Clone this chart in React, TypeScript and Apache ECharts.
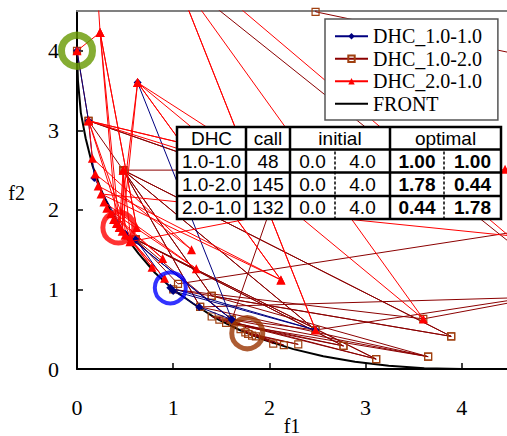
import React, { useEffect, useRef } from 'react';
import * as echarts from 'echarts';

// ---- data ----
const frontPoints: number[][] = [
  [0, 4], [0.01, 3.62], [0.04, 3.22], [0.09, 2.9], [0.16, 2.56], [0.25, 2.25],
  [0.36, 1.96], [0.49, 1.69], [0.64, 1.45], [0.81, 1.21], [1.0, 1.0], [1.21, 0.82],
  [1.44, 0.64], [1.69, 0.49], [1.96, 0.36], [2.25, 0.25], [2.56, 0.16], [2.89, 0.09],
  [3.24, 0.04], [3.61, 0.01], [4.0, 0.0],
];

const dhc11Points: number[][] = [
  [0.63, 3.6], [1.61, 0.62], [1.27, 0.78], [1.0, 0.98], [2.48, 0.49], [0.97, 1.02],
  [0.61, 1.63], [0.5, 1.7], [1.61, 0.62], [0.5, 1.7], [0.18, 2.4], [0.12, 3.12], [0, 4],
];

const dhc12Points: number[][] = [
  [0, 4], [0.12, 3.12], [2.3, 2.2], [0.12, 3.12], [0.48, 2.5], [2.48, 0.49],
  [0.48, 2.5], [3.89, 0.41], [0.48, 2.5], [1.4, 0.92], [0.48, 2.5], [1.28, 0.78],
  [0.48, 2.5], [2.15, 2.5], [1.61, 0.62], [0.61, 1.63], [3.11, 0.125], [0.61, 1.63],
  [2.77, 0.29], [0.61, 1.63], [1.05, 1.07], [4.7, 1.75], [4.8, 1.3], [0.97, 5.0],
  [2.6, 5.0], [2.48, 4.49], [4.8, 3.9], [4.8, 0.9], [3.6, 0.63], [1.0, 1.0],
  [3.89, 0.41], [1.4, 0.92], [3.65, 0.155], [1.28, 0.78], [4.7, 0.9], [2.48, 0.49],
  [1.4, 0.66], [3.11, 0.125], [1.48, 0.62], [2.77, 0.29], [1.55, 0.58], [3.65, 0.155],
  [1.61, 0.62], [2.04, 0.32], [1.7, 0.5], [2.15, 0.3], [1.75, 0.46], [2.3, 0.31],
  [1.78, 0.44], [1.82, 0.42], [1.86, 0.41], [1.78, 0.44],
];

const dhc21Points: number[][] = [
  [0, 4], [0.24, 4.23], [0.62, 1.78], [0.24, 4.23], [0.2, 5.0], [1.0, 5.0],
  [2.48, 0.49], [1.0, 5.0], [3.6, 0.63], [0.63, 3.6], [2.12, 1.12], [0.63, 3.6],
  [2.3, 2.3], [0.12, 3.12], [2.1, 2.55], [0.12, 3.12], [0.16, 2.65], [1.19, 1.5],
  [0.19, 2.45], [0.22, 2.3], [2.12, 1.12], [0.25, 2.2], [4.7, 1.65], [4.6, 1.56],
  [1.24, 5.0], [4.8, 5.0], [4.8, 2.6], [4.45, 2.51], [0.55, 1.6], [0.28, 2.1],
  [1.24, 1.26], [0.31, 2.02], [0.89, 1.39], [0.35, 1.95], [0.78, 1.28], [0.38, 1.88],
  [0.91, 1.14], [0.41, 1.83], [0.24, 4.23], [0.44, 1.78], [0.63, 3.6], [0.47, 1.73],
  [0.48, 2.5], [0.5, 1.68], [0.12, 3.12], [0.56, 1.62], [0.48, 2.5], [0.44, 1.78],
];

const ringPoints: number[][] = [[0, 4], [0.43, 1.78], [0.97, 1.02], [1.77, 0.45]];

const seriesNames = ['DHC_1.0-1.0', 'DHC_1.0-2.0', 'DHC_2.0-1.0', 'FRONT'];

const tableHeader = ['DHC', 'call', 'initial', 'optimal'];
const tableRuns = ['1.0-1.0', '1.0-2.0', '2.0-1.0'];
const tableCalls = [48, 145, 132];
const tableInitial = [[0.0, 4.0], [0.0, 4.0], [0.0, 4.0]];
const tableOptimal = [[1.0, 1.0], [1.78, 0.44], [0.44, 1.78]];

// ---- styles ----
const SERIF = '"Liberation Serif", "Times New Roman", serif';
const SANS = '"Liberation Sans", Arial, sans-serif';
const ringColors = ['#669900', '#ff0000', '#0000ff', '#993300'];
const ringWidths = [7, 5, 4, 5];

// table layout (pixels)
const colX = [177, 246, 290, 335, 390, 444, 501];
const rowY = [127, 149.5, 172.5, 196, 219];

function buildTable(): any[] {
  const els: any[] = [];
  const z = 100;
  els.push({
    type: 'rect', z,
    shape: { x: colX[0], y: rowY[0], width: colX[6] - colX[0], height: rowY[4] - rowY[0] },
    style: { fill: '#fff', stroke: '#000', lineWidth: 2.5 },
  });
  for (let i = 1; i < 4; i++) {
    els.push({ type: 'line', z: z + 1, shape: { x1: colX[0], y1: rowY[i], x2: colX[6], y2: rowY[i] }, style: { stroke: '#000', lineWidth: 2.5 } });
  }
  [1, 2, 4].forEach((c) => {
    els.push({ type: 'line', z: z + 1, shape: { x1: colX[c], y1: rowY[0], x2: colX[c], y2: rowY[4] }, style: { stroke: '#000', lineWidth: 2.5 } });
  });
  [3, 5].forEach((c) => {
    els.push({ type: 'line', z: z + 1, shape: { x1: colX[c], y1: rowY[1] + 2, x2: colX[c], y2: rowY[4] - 1 }, style: { stroke: '#000', lineWidth: 1.5, lineDash: [3, 2] } });
  });
  const txt = (t: string, x: number, y: number, bold = false) => ({
    type: 'text', z: z + 2, x, y,
    style: { text: t, fill: '#000', fontSize: 19, fontFamily: SANS, fontWeight: bold ? 'bold' : 'normal', align: 'center', verticalAlign: 'middle' },
  });
  const headY = (rowY[0] + rowY[1]) / 2;
  els.push(txt(tableHeader[0], (colX[0] + colX[1]) / 2, headY));
  els.push(txt(tableHeader[1], (colX[1] + colX[2]) / 2, headY));
  els.push(txt(tableHeader[2], (colX[2] + colX[4]) / 2, headY));
  els.push(txt(tableHeader[3], (colX[4] + colX[6]) / 2, headY));
  for (let r = 0; r < 3; r++) {
    const cy = (rowY[r + 1] + rowY[r + 2]) / 2;
    const cells = [
      tableRuns[r], String(tableCalls[r]),
      tableInitial[r][0].toFixed(1), tableInitial[r][1].toFixed(1),
      tableOptimal[r][0].toFixed(2), tableOptimal[r][1].toFixed(2),
    ];
    cells.forEach((t, c) => {
      els.push(txt(t, (colX[c] + colX[c + 1]) / 2, cy, c >= 4));
    });
  }
  return els;
}

export default function App() {
  const ref = useRef<HTMLDivElement>(null);
  useEffect(() => {
    if (!ref.current) return;
    const chart = echarts.init(ref.current, undefined, { renderer: 'svg' });
    const intLabel = (v: number) => (Number.isInteger(v) ? String(v) : '');
    chart.setOption({
      animation: false,
      backgroundColor: '#fff',
      grid: { left: 77, right: 0, top: 11, bottom: 67, containLabel: false, outerBoundsMode: 'none' },
      xAxis: [
        {
          type: 'value', min: 0, max: 4.47, interval: 1,
          name: 'f1', nameLocation: 'middle', nameGap: 47, nameMoveOverlap: false,
          nameTextStyle: { fontFamily: SERIF, fontSize: 20, color: '#000' },
          axisLine: { show: true, lineStyle: { color: '#000', width: 2 } },
          axisTick: { show: true, inside: true, length: 6, lineStyle: { color: '#000', width: 1.5 } },
          axisLabel: { fontFamily: SERIF, fontSize: 22, color: '#000', margin: 27, formatter: intLabel, showMaxLabel: false },
          splitLine: { show: false },
        },
        {
          type: 'value', position: 'top', min: 0, max: 4.47,
          axisLine: { show: true, onZero: false, lineStyle: { color: '#808080', width: 2 } },
          axisTick: { show: false }, axisLabel: { show: false }, splitLine: { show: false },
        },
      ],
      yAxis: {
        type: 'value', min: 0, max: 4.5, interval: 1,
        name: 'f2', nameLocation: 'middle', nameRotate: 0, nameGap: 52, nameMoveOverlap: false,
        nameTextStyle: { fontFamily: SERIF, fontSize: 20, color: '#000', verticalAlign: 'top', lineHeight: 6 },
        axisLine: { show: true, lineStyle: { color: '#000', width: 2 } },
        axisTick: { show: true, inside: true, length: 6, lineStyle: { color: '#000', width: 1.5 } },
        axisLabel: { fontFamily: SERIF, fontSize: 22, color: '#000', margin: 18, formatter: intLabel, showMaxLabel: false },
        splitLine: { show: false },
      },
      legend: {
        orient: 'vertical', left: 325, top: 19,
        padding: [7, 16, 6, 9], itemGap: 2, itemWidth: 33, itemHeight: 8,
        backgroundColor: '#fff', borderColor: '#555', borderWidth: 1.5, z: 50,
        textStyle: { fontFamily: SERIF, fontSize: 20, color: '#000', lineHeight: 20.5 },
        data: [
          seriesNames[0], seriesNames[1], seriesNames[2],
          { name: seriesNames[3], itemStyle: { opacity: 0 } },
        ],
      },
      series: [
        {
          name: seriesNames[3], type: 'line', data: frontPoints, symbol: 'none',
          lineStyle: { color: '#000', width: 2 }, itemStyle: { color: '#000' }, z: 1,
        },
        {
          name: seriesNames[1], type: 'line', data: dhc12Points, symbol: 'rect', symbolSize: 7,
          lineStyle: { color: '#8b0000', width: 1 },
          itemStyle: { color: 'rgba(255,255,255,0)', borderColor: '#a04010', borderWidth: 1.2 }, z: 2,
        },
        {
          name: seriesNames[0], type: 'line', data: dhc11Points, symbol: 'diamond', symbolSize: 8,
          lineStyle: { color: '#000080', width: 1 }, itemStyle: { color: '#000080' }, z: 3,
        },
        {
          name: seriesNames[2], type: 'line', data: dhc21Points, symbol: 'triangle', symbolSize: 9,
          lineStyle: { color: '#ff0000', width: 1 }, itemStyle: { color: '#ff0000' }, z: 4,
        },
        {
          name: 'optima', type: 'scatter', clip: false, z: 5,
          data: ringPoints.map((p, i) => ({
            value: p,
            itemStyle: { color: 'rgba(0,0,0,0)', borderColor: ringColors[i], borderWidth: ringWidths[i] },
          })),
          symbol: 'circle', symbolSize: 31,
        },
      ],
      graphic: buildTable(),
    });
    return () => chart.dispose();
  }, []);
  return <div ref={ref} style={{ position: 'absolute', left: 0, top: 0, width: 507, height: 436 }} />;
}
